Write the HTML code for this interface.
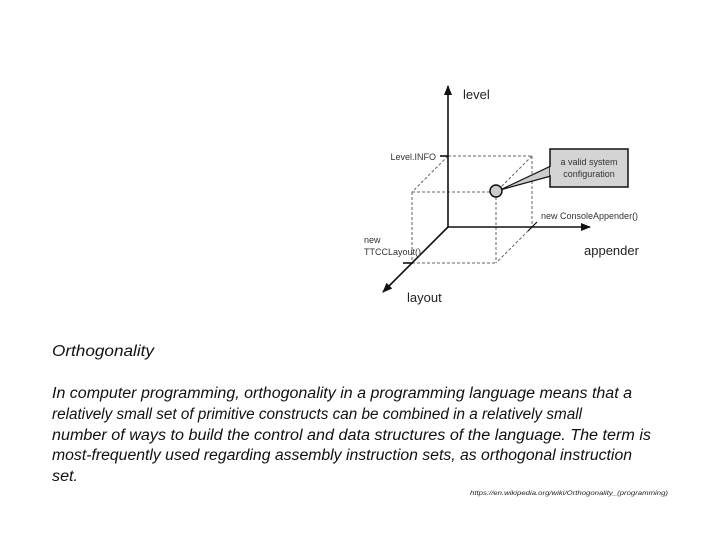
<!DOCTYPE html>
<html><head><meta charset="utf-8"><style>
html,body{margin:0;padding:0;background:#fff;}
svg{display:block;}
</style></head><body>
<svg width="720" height="540" viewBox="0 0 720 540" xmlns="http://www.w3.org/2000/svg" font-family="Liberation Sans, sans-serif">
<defs>
<marker id="ah" markerWidth="10" markerHeight="10" refX="9" refY="5" orient="auto" markerUnits="userSpaceOnUse">
<path d="M0,1 L10,5 L0,9 z" fill="#111"/>
</marker>
</defs>
<g stroke="#666" stroke-width="1" stroke-dasharray="3,2" fill="none">
<line x1="448" y1="156" x2="532" y2="156"/>
<line x1="532" y1="156" x2="532" y2="227"/>
<line x1="448" y1="156" x2="412" y2="192"/>
<line x1="532" y1="156" x2="496" y2="192"/>
<line x1="532" y1="227" x2="496" y2="263"/>
<line x1="412" y1="192" x2="496" y2="192"/>
<line x1="412" y1="192" x2="412" y2="263"/>
<line x1="496" y1="192" x2="496" y2="263"/>
<line x1="412" y1="263" x2="496" y2="263"/>
</g>
<g stroke="#111" stroke-width="1.6" fill="none">
<line x1="448" y1="227" x2="448" y2="86" marker-end="url(#ah)"/>
<line x1="448" y1="227" x2="590" y2="227" marker-end="url(#ah)"/>
<line x1="448" y1="227" x2="383" y2="292" marker-end="url(#ah)"/>
<line x1="440" y1="156" x2="448" y2="156"/>
<line x1="403" y1="263" x2="413" y2="263"/>
<line x1="528" y1="231" x2="537" y2="222" stroke-width="1.2"/>
</g>
<polygon points="500,190 551,166 551,176" fill="#ccc" stroke="#111" stroke-width="1.2"/>
<rect x="550" y="149" width="78" height="38" fill="#d4d4d4" stroke="#111" stroke-width="1.5"/>
<line x1="551" y1="167" x2="551" y2="175" stroke="#d4d4d4" stroke-width="2"/>
<circle cx="496" cy="191" r="6" fill="#ccc" stroke="#111" stroke-width="1.5"/>
<g fill="#333" font-size="9">
<text x="589" y="165" text-anchor="middle">a valid system</text>
<text x="589" y="177" text-anchor="middle">configuration</text>
<text x="436" y="160" text-anchor="end">Level.INFO</text>
<text x="541" y="219">new ConsoleAppender()</text>
<text x="364" y="243">new</text>
<text x="364" y="255">TTCCLayout()</text>
</g>
<g fill="#222" font-size="13">
<text x="463" y="99">level</text>
<text x="584" y="255">appender</text>
<text x="407" y="302">layout</text>
</g>
<g fill="#111" font-size="15.5" font-style="italic">
<text x="52" y="356" textLength="102" lengthAdjust="spacingAndGlyphs">Orthogonality</text>
<text x="52" y="398" textLength="580" lengthAdjust="spacingAndGlyphs">In computer programming, orthogonality in a programming language means that a</text>
<text x="52" y="419" textLength="530" lengthAdjust="spacingAndGlyphs">relatively small set of primitive constructs can be combined in a relatively small</text>
<text x="52" y="440" textLength="599" lengthAdjust="spacingAndGlyphs">number of ways to build the control and data structures of the language. The term is</text>
<text x="52" y="460" textLength="580" lengthAdjust="spacingAndGlyphs">most-frequently used regarding assembly instruction sets, as orthogonal instruction</text>
<text x="52" y="481" textLength="26" lengthAdjust="spacingAndGlyphs">set.</text>
</g>
<text x="668" y="495" font-size="6.5" font-style="italic" fill="#222" text-anchor="end" textLength="198" lengthAdjust="spacingAndGlyphs">https://en.wikipedia.org/wiki/Orthogonality_(programming)</text>
</svg>
</body></html>
